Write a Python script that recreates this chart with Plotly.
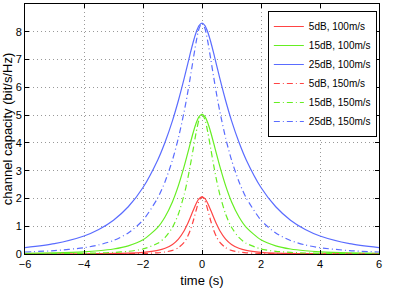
import plotly.graph_objects as go

# time samples (s), positive half; curves are symmetric about t = 0
t_half = [0, 0.1, 0.2, 0.3, 0.4, 0.5, 0.6, 0.8, 1.0, 1.25, 1.5, 2.0, 2.5, 3.0, 3.5, 4.0, 5.0, 6.0]

# channel capacity (bit/s/Hz)
c5_100 = [2.057, 1.991, 1.811, 1.567, 1.305, 1.059, 0.848, 0.537, 0.344, 0.206, 0.1305, 0.0602, 0.0321, 0.019, 0.0121, 0.0082, 0.0042, 0.0025]
c15_100 = [5.028, 4.942, 4.705, 4.366, 3.973, 3.566, 3.170, 2.461, 1.885, 1.343, 0.961, 0.512, 0.293, 0.179, 0.117, 0.080, 0.042, 0.024]
c25_100 = [8.309, 8.221, 7.977, 7.624, 7.210, 6.773, 6.340, 5.526, 4.804, 4.033, 3.388, 2.395, 1.700, 1.217, 0.882, 0.649, 0.371, 0.227]
c5_150 = [2.057, 1.913, 1.567, 1.178, 0.848, 0.602, 0.428, 0.2275, 0.1305, 0.0719, 0.0433, 0.019, 0.0099, 0.0058, 0.0037, 0.0025, 0.0013, 0.0007]
c15_150 = [5.028, 4.840, 4.366, 3.769, 3.170, 2.626, 2.156, 1.437, 0.961, 0.596, 0.384, 0.179, 0.096, 0.057, 0.036, 0.024, 0.013, 0.007]
c25_150 = [8.309, 8.116, 7.624, 6.993, 6.340, 5.721, 5.153, 4.177, 3.388, 2.611, 2.017, 1.217, 0.755, 0.487, 0.326, 0.227, 0.121, 0.072]

labels = ["5dB, 100m/s", "15dB, 100m/s", "25dB, 100m/s",
          "5dB, 150m/s", "15dB, 150m/s", "25dB, 150m/s"]
series = [c5_100, c15_100, c25_100, c5_150, c15_150, c25_150]
colors = ["#ff4444", "#66ee22", "#5a6cff", "#ff4444", "#66ee22", "#5a6cff"]
dashes = ["solid", "solid", "solid", "6px,3px,1px,3px", "6px,3px,1px,3px", "6px,3px,1px,3px"]

t_full = [-v for v in t_half[::-1]] + t_half[1:]

fig = go.Figure()
for lab, ys, col, d in zip(labels, series, colors, dashes):
    y_full = ys[::-1] + ys[1:]
    fig.add_trace(go.Scatter(x=t_full, y=y_full, mode="lines", name=lab,
                             line=dict(color=col, width=1.2, dash=d, shape="spline", smoothing=0.7)))

fam = "Liberation Sans, Arial, sans-serif"
fig.update_layout(
    width=399, height=288,
    margin=dict(l=25, r=20, t=4, b=34),
    paper_bgcolor="white", plot_bgcolor="white",
    font=dict(family=fam, size=11, color="black"),
    showlegend=True,
    legend=dict(x=0.686, y=0.972, xanchor="left", yanchor="top",
                bgcolor="white", bordercolor="black", borderwidth=1,
                font=dict(family=fam, size=10),
                tracegroupgap=0, itemwidth=30),
)
fig.update_xaxes(range=[-6, 6], tickvals=[-6, -4, -2, 0, 2, 4, 6], automargin=False,
                 showline=True, linecolor="black", linewidth=1, mirror="allticks",
                 ticks="inside", ticklen=4, tickcolor="black",
                 showgrid=True, gridcolor="#999", griddash="1px,3px", gridwidth=1,
                 zeroline=False, title=dict(text="time (s)", standoff=6))
fig.update_yaxes(range=[0, 9], tickvals=list(range(10)), automargin=False,
                 showline=True, linecolor="black", linewidth=1, mirror="allticks",
                 ticks="inside", ticklen=4, tickcolor="black",
                 showgrid=True, gridcolor="#999", griddash="1px,3px", gridwidth=1,
                 zeroline=False, title=dict(text="channel capacity (bit/s/Hz)", standoff=2))

fig.write_html("out.html", config={"displayModeBar": False},
               post_script="document.body.style.margin='0';")
